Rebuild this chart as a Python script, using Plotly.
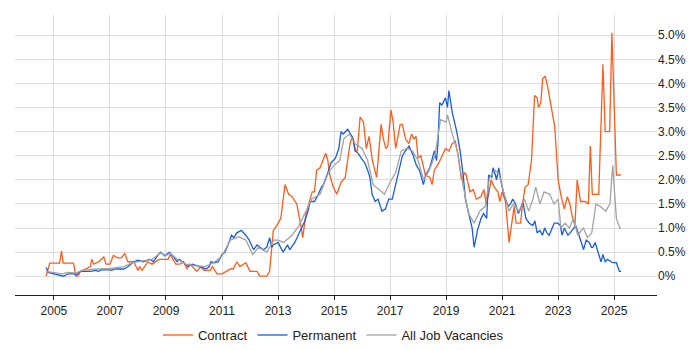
import plotly.graph_objects as go

# ---- data (decimal year, percent) ----
contract_x = [2004.72, 2004.85, 2005.2, 2005.27, 2005.33, 2005.7, 2005.78, 2005.85, 2005.95, 2006.2, 2006.3, 2006.35, 2006.42,
              2006.6, 2006.78, 2006.86, 2007.0, 2007.12, 2007.28, 2007.4, 2007.53, 2007.64, 2007.85, 2008.0, 2008.06, 2008.15,
              2008.35, 2008.5, 2008.75, 2009.07, 2009.15, 2009.35, 2009.5, 2009.63, 2009.75, 2009.85, 2010.1, 2010.25, 2010.35,
              2010.58, 2010.66, 2010.82, 2011.0, 2011.15, 2011.3, 2011.4, 2011.53, 2011.64, 2011.85, 2012.0, 2012.25, 2012.35,
              2012.6, 2012.7, 2012.83, 2012.95, 2013.1, 2013.25, 2013.38, 2013.5, 2013.67, 2013.83, 2013.88, 2014.0, 2014.15,
              2014.22, 2014.3, 2014.38, 2014.5, 2014.7, 2014.78, 2014.85, 2014.97, 2015.1, 2015.25, 2015.4, 2015.57, 2015.65,
              2015.75, 2015.83, 2015.93, 2016.05, 2016.15, 2016.25, 2016.37, 2016.52, 2016.68, 2016.76, 2016.85, 2016.92,
              2017.03, 2017.11, 2017.2, 2017.36, 2017.44, 2017.55, 2017.67, 2017.77, 2017.85, 2017.93, 2018.0, 2018.1, 2018.26,
              2018.42, 2018.5, 2018.58, 2018.74, 2018.9, 2018.98, 2019.1, 2019.22, 2019.33, 2019.43, 2019.55, 2019.67, 2019.72,
              2019.85, 2019.97, 2020.08, 2020.24, 2020.35, 2020.43, 2020.52, 2020.61, 2020.72, 2020.85, 2020.92, 2021.0,
              2021.12, 2021.25, 2021.35, 2021.43, 2021.5, 2021.66, 2021.73, 2021.82, 2021.93, 2022.05, 2022.16, 2022.25, 2022.3,
              2022.38, 2022.45, 2022.54, 2022.62, 2022.73, 2022.88, 2023.0, 2023.11, 2023.22, 2023.33, 2023.42, 2023.5, 2023.6,
              2023.68, 2023.8, 2023.97, 2024.08, 2024.15, 2024.22, 2024.36, 2024.45, 2024.6, 2024.68, 2024.84, 2024.92,
              2025.08, 2025.24]
contract_y = [0.0, 0.27, 0.27, 0.52, 0.27, 0.27, 0.0, 0.0, 0.1, 0.17, 0.2, 0.35, 0.25,
              0.3, 0.4, 0.25, 0.25, 0.43, 0.38, 0.38, 0.47, 0.3, 0.3, 0.12, 0.2, 0.12,
              0.3, 0.25, 0.35, 0.35, 0.45, 0.25, 0.25, 0.3, 0.15, 0.25, 0.1, 0.2, 0.12,
              0.12, 0.2, 0.05, 0.05, 0.1, 0.15, 0.15, 0.3, 0.2, 0.28, 0.1, 0.1, 0.0,
              0.0, 0.1, 0.95, 1.05, 1.2, 1.9, 1.7, 1.65, 1.5, 1.0, 0.8, 1.3, 1.6,
              1.75, 1.75, 2.2, 2.25, 2.55, 2.4, 2.1, 1.85, 1.7, 1.95, 2.05, 2.75, 2.9,
              2.6, 2.6, 3.3, 3.2, 2.65, 2.9, 2.4, 2.05, 3.15, 2.85, 2.65, 2.7,
              3.45, 3.2, 2.65, 3.15, 3.15, 2.85, 2.75, 2.95, 2.85, 2.9, 2.45, 2.5, 2.1,
              2.05, 1.9, 2.2, 2.35, 2.55, 2.65, 2.6, 2.75, 2.8, 2.5, 2.0, 2.15, 2.1,
              1.75, 1.8, 1.6, 1.65, 1.8, 1.5, 1.7, 2.0, 1.85, 1.75, 1.55, 1.75,
              1.55, 0.7, 1.15, 1.45, 1.1, 1.1, 1.5, 1.85, 1.9, 2.4, 3.75, 3.7, 3.5,
              3.6, 4.1, 4.15, 3.95, 3.6, 3.1, 2.0, 1.65, 1.4, 1.65, 1.5, 1.25, 1.05,
              2.0, 1.55, 1.55, 1.5, 2.7, 1.7, 1.7, 1.7, 4.4, 3.0, 3.0, 5.05,
              2.1, 2.1]

permanent_x = [2004.72, 2004.8, 2005.0, 2005.2, 2005.35, 2005.5, 2005.7, 2005.8, 2005.95, 2006.3, 2006.5, 2006.58, 2006.7,
               2007.0, 2007.05, 2007.2, 2007.5, 2007.65, 2007.85, 2008.0, 2008.2, 2008.43, 2008.55, 2008.67, 2008.8, 2008.96,
               2009.12, 2009.24, 2009.4, 2009.48, 2009.63, 2009.79, 2009.95, 2010.1, 2010.3, 2010.43, 2010.55, 2010.6, 2010.73,
               2010.87, 2011.0, 2011.11, 2011.25, 2011.34, 2011.42, 2011.53, 2011.69, 2011.85, 2011.97, 2012.13, 2012.25,
               2012.47, 2012.6, 2012.7, 2012.78, 2012.83, 2013.0, 2013.1, 2013.18, 2013.34, 2013.42, 2013.6, 2013.83, 2013.96,
               2014.07, 2014.15, 2014.3, 2014.4, 2014.55, 2014.62, 2014.78, 2014.89, 2015.05, 2015.17, 2015.25, 2015.33,
               2015.49, 2015.6, 2015.69, 2015.76, 2015.86, 2015.97, 2016.1, 2016.2, 2016.28, 2016.36, 2016.47, 2016.57,
               2016.71, 2016.84, 2016.95, 2017.08, 2017.2, 2017.3, 2017.44, 2017.55, 2017.68, 2017.83, 2017.94, 2018.05,
               2018.19, 2018.27, 2018.42, 2018.58, 2018.66, 2018.71, 2018.77, 2018.85, 2018.98, 2019.05, 2019.1, 2019.22,
               2019.38, 2019.5, 2019.61, 2019.69, 2019.8, 2019.93, 2020.0, 2020.12, 2020.25, 2020.34, 2020.45, 2020.52,
               2020.63, 2020.68, 2020.76, 2020.8, 2020.88, 2021.0, 2021.12, 2021.22, 2021.3, 2021.38, 2021.48, 2021.58,
               2021.66, 2021.74, 2021.85, 2021.97, 2022.1, 2022.17, 2022.25, 2022.35, 2022.44, 2022.52, 2022.6, 2022.68,
               2022.86, 2023.0, 2023.08, 2023.14, 2023.22, 2023.35, 2023.43, 2023.63, 2023.8, 2023.91, 2024.0, 2024.11,
               2024.19, 2024.24, 2024.32, 2024.45, 2024.53, 2024.6, 2024.68, 2024.76, 2024.95, 2025.08, 2025.19, 2025.25]
permanent_y = [0.18, 0.08, 0.05, 0.02, 0.0, 0.05, 0.05, 0.03, 0.1, 0.1, 0.12, 0.1, 0.13,
               0.13, 0.12, 0.15, 0.15, 0.2, 0.3, 0.33, 0.3, 0.35, 0.3, 0.4, 0.5, 0.42,
               0.5, 0.42, 0.3, 0.35, 0.28, 0.2, 0.25, 0.22, 0.18, 0.15, 0.2, 0.3, 0.28,
               0.3, 0.45, 0.5, 0.7, 0.85, 0.8, 0.9, 0.95, 0.85, 0.75, 0.55, 0.65,
               0.55, 0.6, 0.8, 0.6, 0.65, 0.7, 0.6, 0.5, 0.65, 0.55, 0.7, 1.0, 1.15,
               1.35, 1.55, 1.55, 1.65, 1.85, 1.9, 2.15, 2.35, 2.45, 2.65, 3.0, 2.95,
               3.05, 2.95, 2.85, 2.6, 2.55, 2.45, 2.35, 2.2, 2.05, 1.7, 1.55, 1.6,
               1.35, 1.4, 1.6, 1.6, 1.9, 2.2, 2.5, 2.6, 2.7, 2.5, 2.3, 2.2,
               1.9, 2.1, 2.25, 2.6, 2.4, 2.75, 3.6, 3.55, 3.7, 3.5, 3.85, 3.4,
               3.0, 2.6, 2.1, 1.6, 1.3, 1.0, 0.6, 0.95, 1.2, 1.3, 1.2, 2.1,
               2.05, 2.25, 2.1, 2.0, 2.25, 1.85, 1.6, 1.45, 1.5, 1.6, 1.5, 1.3,
               1.4, 1.55, 1.2, 1.1, 1.05, 1.15, 0.9, 0.95, 0.85, 1.0, 0.9, 0.85,
               1.1, 1.1, 1.05, 0.85, 1.0, 0.85, 0.9, 1.05, 0.75, 0.55, 0.75, 0.7,
               0.6, 0.6, 0.7, 0.45, 0.3, 0.45, 0.3, 0.35, 0.28, 0.28, 0.1, 0.1]

all_x = [2004.72, 2005.0, 2005.3, 2005.5, 2005.8, 2006.0, 2006.5, 2007.0, 2007.5, 2007.8, 2008.0, 2008.5, 2008.8,
         2009.0, 2009.15, 2009.4, 2009.7, 2010.0, 2010.4, 2010.7, 2011.0, 2011.3, 2011.6, 2011.85, 2012.1, 2012.3,
         2012.6, 2012.85, 2013.0, 2013.2, 2013.5, 2013.75, 2014.0, 2014.2, 2014.5, 2014.8, 2015.0, 2015.2, 2015.35,
         2015.55, 2015.75, 2016.0, 2016.2, 2016.4, 2016.6, 2016.8, 2017.0, 2017.2, 2017.4, 2017.6, 2017.8, 2018.0,
         2018.2, 2018.4, 2018.6, 2018.8, 2019.0, 2019.05, 2019.2, 2019.4, 2019.6, 2019.8, 2020.0, 2020.2, 2020.4,
         2020.55, 2020.75, 2020.9, 2021.1, 2021.25, 2021.4, 2021.6, 2021.8, 2021.95, 2022.1, 2022.2, 2022.35,
         2022.5, 2022.7, 2022.85, 2023.0, 2023.1, 2023.25, 2023.4, 2023.55, 2023.7, 2023.9, 2024.05, 2024.2,
         2024.35, 2024.5, 2024.7, 2024.85, 2024.95, 2025.08, 2025.2, 2025.25]
all_y = [0.1, 0.07, 0.05, 0.08, 0.07, 0.12, 0.15, 0.16, 0.2, 0.28, 0.3, 0.35, 0.48,
         0.43, 0.48, 0.35, 0.25, 0.22, 0.2, 0.28, 0.42, 0.75, 0.82, 0.75, 0.45, 0.6,
         0.5, 0.75, 0.75, 0.7, 0.85, 1.05, 1.35, 1.6, 1.7, 2.15, 2.3, 2.4, 2.85,
         2.95, 2.75, 2.65, 2.4, 1.9, 1.8, 1.7, 1.95, 2.15, 2.6, 2.65, 2.6, 2.4,
         2.0, 2.2, 2.5, 3.25, 3.2, 3.35, 3.0, 2.6, 1.9, 1.3, 1.1, 1.35, 1.45,
         2.05, 2.2, 2.1, 1.65, 1.35, 1.5, 1.35, 1.6, 1.35, 1.6, 1.85, 1.5,
         1.75, 1.7, 1.5, 1.6, 1.0, 1.1, 1.0, 1.2, 0.85, 1.0, 0.8, 0.9,
         1.5, 1.45, 1.35, 1.5, 2.3, 1.2, 1.0, 1.0]

year_ticks = [2005, 2007, 2009, 2011, 2013, 2015, 2017, 2019, 2021, 2023, 2025]
pct_ticks = [0, 0.5, 1.0, 1.5, 2.0, 2.5, 3.0, 3.5, 4.0, 4.5, 5.0]
pct_labels = ["0%", "0.5%", "1.0%", "1.5%", "2.0%", "2.5%", "3.0%", "3.5%", "4.0%", "4.5%", "5.0%"]

fig = go.Figure()
fig.add_trace(go.Scatter(x=contract_x, y=contract_y, mode="lines", name="Contract",
                         line=dict(color="#ff5b1a", width=1.3)))
fig.add_trace(go.Scatter(x=permanent_x, y=permanent_y, mode="lines", name="Permanent",
                         line=dict(color="#1a5ddb", width=1.3)))
fig.add_trace(go.Scatter(x=all_x, y=all_y, mode="lines", name="All Job Vacancies",
                         line=dict(color="#a3a3a3", width=1.3)))

fig.update_layout(
    width=700, height=350,
    margin=dict(l=7, r=51, t=7, b=63),
    paper_bgcolor="white", plot_bgcolor="white",
    font=dict(family="Liberation Sans, Arial, sans-serif", size=12, color="#222"),
    showlegend=True,
    legend=dict(orientation="h", x=0.496, xanchor="center",
                y=-0.143, yanchor="middle",
                font=dict(size=13, color="#222"), itemwidth=30, tracegroupgap=0),
)
fig.update_xaxes(range=[2003.61, 2026.53], tickvals=year_ticks, ticktext=[str(v) for v in year_ticks],
                 showgrid=True, gridcolor="#dddddd", gridwidth=1, zeroline=False,
                 showline=True, linecolor="#222", linewidth=1.2,
                 ticks="outside", ticklen=4, tickcolor="#222")
fig.update_yaxes(range=[-0.39, 5.42], side="right", tickvals=pct_ticks, ticktext=pct_labels,
                 showgrid=True, gridcolor="#dddddd", gridwidth=1, zeroline=False,
                 showline=False, ticks="")

fig.write_html("out.html")
